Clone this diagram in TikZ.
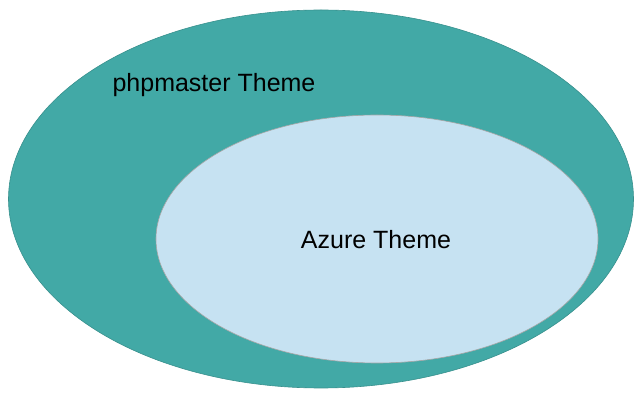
\documentclass[tikz,border=0pt]{standalone}
\usepackage{fontspec}
\setmainfont{Liberation Sans}
\usepackage{tikz}
\usetikzlibrary{positioning,shapes}

\definecolor{tealset}{HTML}{42A9A6}
\definecolor{azureset}{HTML}{C6E2F2}

\begin{document}
\begin{tikzpicture}[x=1pt,y=-1pt]
	\tikzset{set/.style={ellipse,inner sep=0pt,line width=0.6pt}}
	\tikzset{setlabel/.style={inner sep=0pt,font=\fontsize{25}{30}\selectfont}}
	\useasboundingbox (0,0) rectangle (643,403);

	%% Draw the two themes
	\node[set,draw=tealset!85!black,fill=tealset,minimum width=625pt,minimum height=378pt] (outer) at (321,199) {};
	\node[set,draw=gray!70,fill=azureset,minimum width=442pt,minimum height=248pt] (inner) at (377,239) {};

	\node[setlabel] (phpmaster) at (214,85) {phpmaster Theme};
	\node[setlabel] (azure) at (376,240) {Azure Theme};
\end{tikzpicture}
\end{document}
